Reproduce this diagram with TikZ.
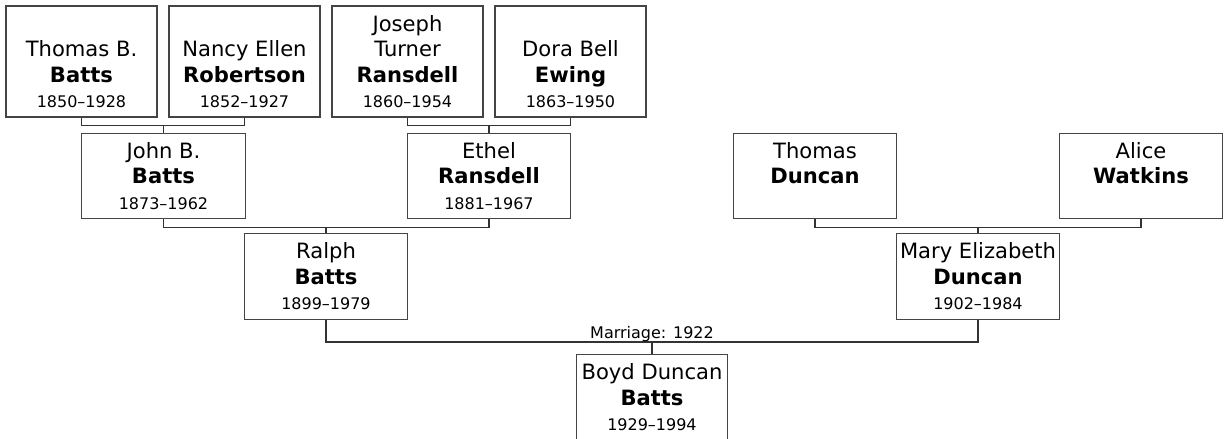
\documentclass[tikz,border=0pt]{standalone}
\usepackage{fontspec}
\setmainfont{DejaVu Sans}
\usepackage{tikz}
\definecolor{boxgray}{HTML}{444444}
\definecolor{linegray}{HTML}{333333}
\newcommand\yrs{\fontsize{9.1}{11.7}\selectfont}

\begin{document}
\begin{tikzpicture}[x=0.02cm, y=-0.02cm,
  person/.style={draw=boxgray, line width=0.75pt, align=center, inner sep=0pt,
    font=\fontsize{12}{14.5}\selectfont},
  elder/.style={person, minimum width=3.02cm, minimum height=2.22cm},
  member/.style={person, minimum width=3.27cm, minimum height=1.71cm},
  link/.style={draw=linegray, line width=0.7pt}]
  \useasboundingbox (0,0) rectangle (1225,439);

  % Great-grandparents
  \node[elder] (tb) at (81.5,61.5) {\vphantom{Jh}\\Thomas B.\\\textbf{Batts}\\\yrs 1850--1928};
  \node[elder] (ne) at (244.5,61.5) {\vphantom{Jh}\\Nancy Ellen\\\textbf{Robertson}\\\yrs 1852--1927};
  \node[elder] (jt) at (407.5,61.5) {Joseph\\Turner\\\textbf{Ransdell}\\\yrs 1860--1954};
  \node[elder] (db) at (570.5,61.5) {\vphantom{Jh}\\Dora Bell\\\textbf{Ewing}\\\yrs 1863--1950};

  % Grandparents
  \node[member] (jb) at (163.5,176) {John B.\\\textbf{Batts}\\\yrs 1873--1962};
  \node[member] (er) at (489,176) {Ethel\\\textbf{Ransdell}\\\yrs 1881--1967};
  \node[member] (td) at (815,176) {Thomas\\\textbf{Duncan}\\\yrs\vphantom{0}};
  \node[member] (aw) at (1141,176) {Alice\\\textbf{Watkins}\\\yrs\vphantom{0}};

  % Parents
  \node[member] (rb) at (326,276.5) {Ralph\\\textbf{Batts}\\\yrs 1899--1979};
  \node[member] (me) at (978,276.5) {Mary Elizabeth\\\textbf{Duncan}\\\yrs 1902--1984};

  % Child
  \node[member, minimum width=3.01cm] (bd) at (652,397.5) {Boyd Duncan\\\textbf{Batts}\\\yrs 1929--1994};

  % Couples and children
  \draw[link] (tb.south) -- ++(0,8) -| (ne.south);
  \draw[link] (jb.north) -- ++(0,-8);
  \draw[link] (jt.south) -- ++(0,8) -| (db.south);
  \draw[link] (er.north) -- ++(0,-8);
  \draw[link] (jb.south) -- ++(0,8) coordinate (jbe) -| (er.south);
  \draw[link] (rb.north) -- (rb.north |- jbe);
  \draw[link] (td.south) -- ++(0,8) coordinate (tda) -| (aw.south);
  \draw[link] (me.north) -- (me.north |- tda);
  \draw[link] (rb.south) -- ++(0,22) coordinate (wed) -| (me.south);
  \draw[link] (bd.north) -- (bd.north |- wed);

  % Marriage date
  \node[anchor=south, inner sep=0pt, font=\yrs] (wedlbl) at (bd.north |- wed) {Marriage: 1922};
\end{tikzpicture}
\end{document}
